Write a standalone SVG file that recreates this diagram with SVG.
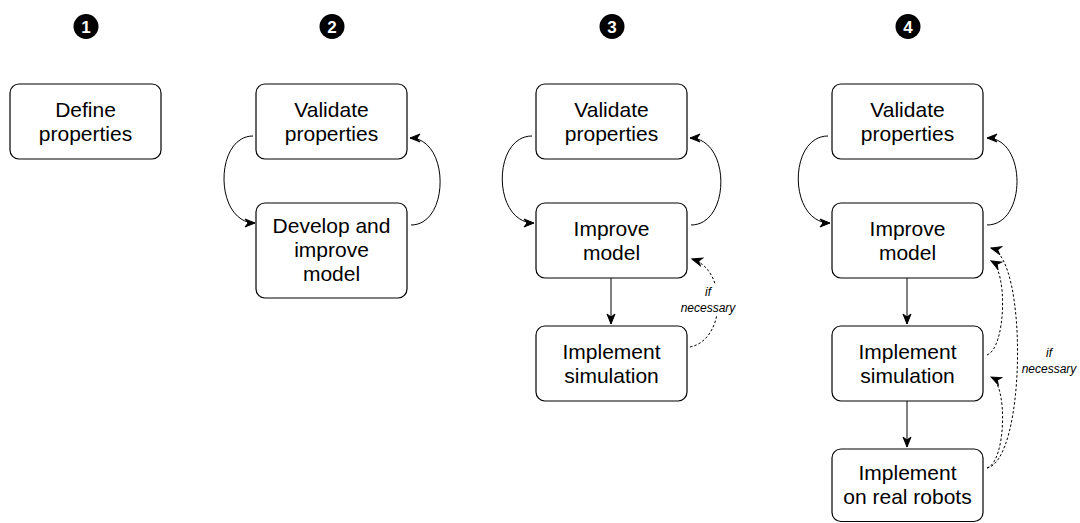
<svg xmlns="http://www.w3.org/2000/svg" width="1080" height="523" viewBox="0 0 1080 523">
<defs>
<style>
.box{fill:#fff;stroke:#000;stroke-width:1.2}
.t{font-family:"Liberation Sans",Arial,Helvetica,sans-serif;font-size:21px;fill:#000;text-anchor:middle}
.n{font-family:"Liberation Sans",Arial,Helvetica,sans-serif;font-size:17px;font-weight:bold;fill:#fff;text-anchor:middle}
.lbl{font-family:"Liberation Sans",Arial,Helvetica,sans-serif;font-size:12px;font-style:italic;fill:#000;text-anchor:middle}
.c{fill:none;stroke:#000;stroke-width:1}
.d{fill:none;stroke:#000;stroke-width:1;stroke-dasharray:2.5 2}
</style>
<marker id="ah" viewBox="-11 -5 12 10" refX="0" refY="0" markerWidth="12" markerHeight="10" markerUnits="userSpaceOnUse" orient="auto">
<path d="M0,0 L-10,-4 L-7,0 L-10,4 Z" fill="#000" stroke="#000" stroke-width="1" stroke-linejoin="miter"/>
</marker>
</defs>
<rect width="1080" height="523" fill="#fff"/>

<g id="steps">
<g id="step1"><circle cx="86" cy="26.5" r="12.5"/><text class="n" x="86" y="32.5">1</text></g>
<g id="step2"><circle cx="332" cy="26.5" r="12.5"/><text class="n" x="332" y="32.5">2</text></g>
<g id="step3"><circle cx="612" cy="26.5" r="12.5"/><text class="n" x="612" y="32.5">3</text></g>
<g id="step4"><circle cx="908" cy="26.5" r="12.5"/><text class="n" x="908" y="32.5">4</text></g>
</g>

<g id="connectors">
<!-- column 2 -->
<path class="c" d="M253 136 C214 136,214 223,255 223" marker-end="url(#ah)"/>
<path class="c" d="M411 225 C450 225,450 138,410 138" marker-end="url(#ah)"/>
<!-- column 3 -->
<path class="c" d="M532 136 C492 136,492 223,534 223" marker-end="url(#ah)"/>
<path class="c" d="M691 225 C731 225,731 138,690 138" marker-end="url(#ah)"/>
<path class="c" d="M611 278 L611 324" marker-end="url(#ah)"/>
<path class="d" d="M690 347 C726 340,728 270,692 259" marker-end="url(#ah)"/>
<!-- column 4 -->
<path class="c" d="M828 136 C788 136,788 223,830 223" marker-end="url(#ah)"/>
<path class="c" d="M987 225 C1027 225,1027 138,987 138" marker-end="url(#ah)"/>
<path class="c" d="M907 278 L907 324" marker-end="url(#ah)"/>
<path class="c" d="M907 401 L907 447" marker-end="url(#ah)"/>
<path class="d" d="M987 355 C1006 348,1008 270,991 261" marker-end="url(#ah)"/>
<path class="d" d="M987 468 C1006 462,1008 385,991 377" marker-end="url(#ah)"/>
<path class="d" d="M987 468 C1026 460,1028 258,991 248" marker-end="url(#ah)"/>
</g>

<g id="labels">
<rect x="680" y="285" width="56" height="30" fill="#fff"/>
<text class="lbl" x="708" y="296">if</text>
<text class="lbl" x="708" y="312">necessary</text>
<text class="lbl" x="1049" y="357">if</text>
<text class="lbl" x="1049" y="373">necessary</text>
</g>

<g id="define">
<rect class="box" x="10" y="84" width="151" height="75" rx="9"/>
<text class="t" x="85.5" y="117">Define</text>
<text class="t" x="85.5" y="141">properties</text>
</g>

<g id="validate2">
<rect class="box" x="256" y="84" width="151" height="75" rx="9"/>
<text class="t" x="331.5" y="117">Validate</text>
<text class="t" x="331.5" y="141">properties</text>
</g>
<g id="develop2">
<rect class="box" x="256" y="203" width="151" height="95" rx="9"/>
<text class="t" x="331.5" y="233">Develop and</text>
<text class="t" x="331.5" y="257">improve</text>
<text class="t" x="331.5" y="281">model</text>
</g>

<g id="validate3">
<rect class="box" x="536" y="84" width="151" height="75" rx="9"/>
<text class="t" x="611.5" y="117">Validate</text>
<text class="t" x="611.5" y="141">properties</text>
</g>
<g id="improve3">
<rect class="box" x="536" y="203" width="151" height="75" rx="9"/>
<text class="t" x="611.5" y="236">Improve</text>
<text class="t" x="611.5" y="260">model</text>
</g>
<g id="sim3">
<rect class="box" x="536" y="326" width="151" height="75" rx="9"/>
<text class="t" x="611.5" y="359">Implement</text>
<text class="t" x="611.5" y="383">simulation</text>
</g>

<g id="validate4">
<rect class="box" x="832" y="84" width="151" height="75" rx="9"/>
<text class="t" x="907.5" y="117">Validate</text>
<text class="t" x="907.5" y="141">properties</text>
</g>
<g id="improve4">
<rect class="box" x="832" y="203" width="151" height="75" rx="9"/>
<text class="t" x="907.5" y="236">Improve</text>
<text class="t" x="907.5" y="260">model</text>
</g>
<g id="sim4">
<rect class="box" x="832" y="326" width="151" height="75" rx="9"/>
<text class="t" x="907.5" y="359">Implement</text>
<text class="t" x="907.5" y="383">simulation</text>
</g>
<g id="robots4">
<rect class="box" x="832" y="449" width="151" height="72.5" rx="9"/>
<text class="t" x="907.5" y="480">Implement</text>
<text class="t" x="907.5" y="504">on real robots</text>
</g>
</svg>
